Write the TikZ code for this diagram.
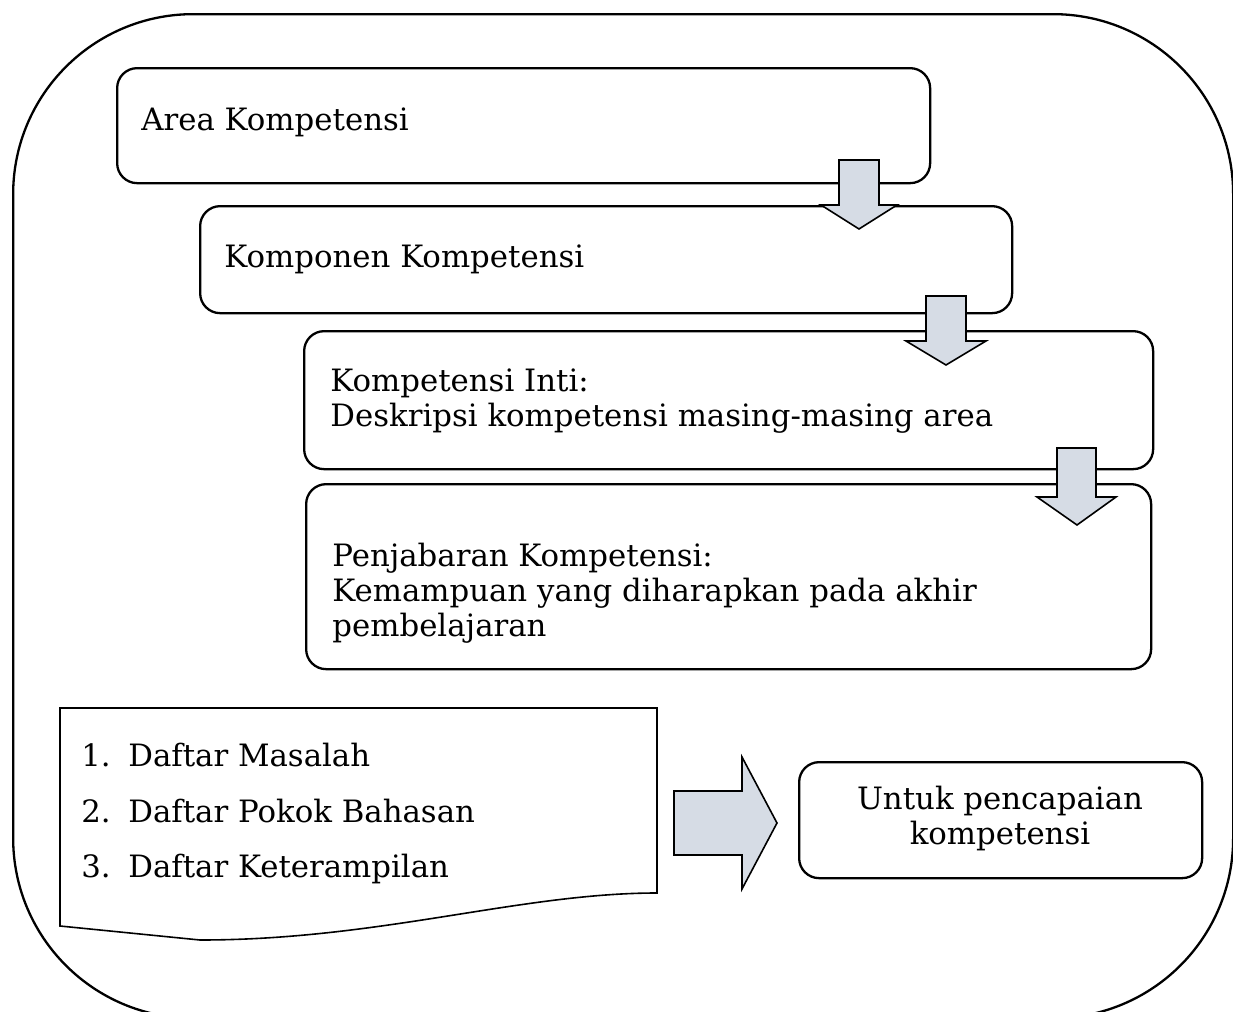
\documentclass[tikz,border=0pt]{standalone}
\usepackage{fontspec}
\setmainfont{DejaVu Serif}
\definecolor{arrowfill}{RGB}{214,220,229}
\tikzset{
  box/.style={draw, line width=1.15pt, rounded corners=10pt, anchor=north west, inner sep=0pt},
  txt/.style={font=\fontsize{15.4}{17.5}\selectfont, inner sep=0pt, align=left},
  blockarrow/.style={draw, line width=0.8pt, fill=arrowfill, line join=miter},
  docshape/.style={draw, line width=0.8pt, line join=miter},
}
\begin{document}
\begin{tikzpicture}[x=0.5pt,y=-0.5pt]
\useasboundingbox (0,0) rectangle (1233,1012);
% outer frame
\node[draw, line width=1.15pt, rounded corners=90pt, anchor=north west, inner sep=0pt,
      minimum width=610pt, minimum height=502pt] (frame) at (12,13) {};
% boxes
\node[box, minimum width=406.5pt, minimum height=57.5pt] (b1) at (116,67) {};
\node[box, minimum width=406pt, minimum height=53.5pt] (b2) at (199,205) {};
\node[box, minimum width=424.5pt, minimum height=69pt] (b3) at (303,330) {};
\node[box, minimum width=422.5pt, minimum height=92.5pt] (b4) at (305,483) {};
\node[box, minimum width=201.5pt, minimum height=58pt] (b5) at (798,761) {};
% texts (base anchor = baseline of the last line)
\node[txt, anchor=base west] (t1) at (141,130) {Area Kompetensi};
\node[txt, anchor=base west] (t2) at (224,267) {Komponen Kompetensi};
\node[txt, anchor=base west] (t3) at (330,426) {Kompetensi Inti:\\Deskripsi kompetensi masing-masing area};
\node[txt, anchor=base west] (t4) at (332,636) {Penjabaran Kompetensi:\\Kemampuan yang diharapkan pada akhir\\pembelajaran};
\node[txt, anchor=base, align=center] (t5) at (1000,844) {Untuk pencapaian\\kompetensi};
% document shape
\draw[docshape] (60,708) -- (657,708) -- (657,893)
  .. controls (520,893) and (380,940) .. (200,940) -- (60,926) -- cycle;
\node[txt, anchor=base west] (l1) at (81,766) {\makebox[23.5pt][l]{1.}Daftar Masalah};
\node[txt, anchor=base west] (l2) at (81,822) {\makebox[23.5pt][l]{2.}Daftar Pokok Bahasan};
\node[txt, anchor=base west] (l3) at (81,877) {\makebox[23.5pt][l]{3.}Daftar Keterampilan};
% down arrows
\draw[blockarrow] (839,160) -- (879,160) -- (879,205) -- (897,205) -- (859,229) -- (821,205) -- (839,205) -- cycle;
\draw[blockarrow] (926,296) -- (966,296) -- (966,341) -- (986,341) -- (946,365) -- (906,341) -- (926,341) -- cycle;
\draw[blockarrow] (1057,448) -- (1096,448) -- (1096,497) -- (1116,497) -- (1077,525) -- (1037,497) -- (1057,497) -- cycle;
% right arrow
\draw[blockarrow] (674,791) -- (742,791) -- (742,757) -- (777,823) -- (742,889) -- (742,855) -- (674,855) -- cycle;
\end{tikzpicture}
\end{document}
